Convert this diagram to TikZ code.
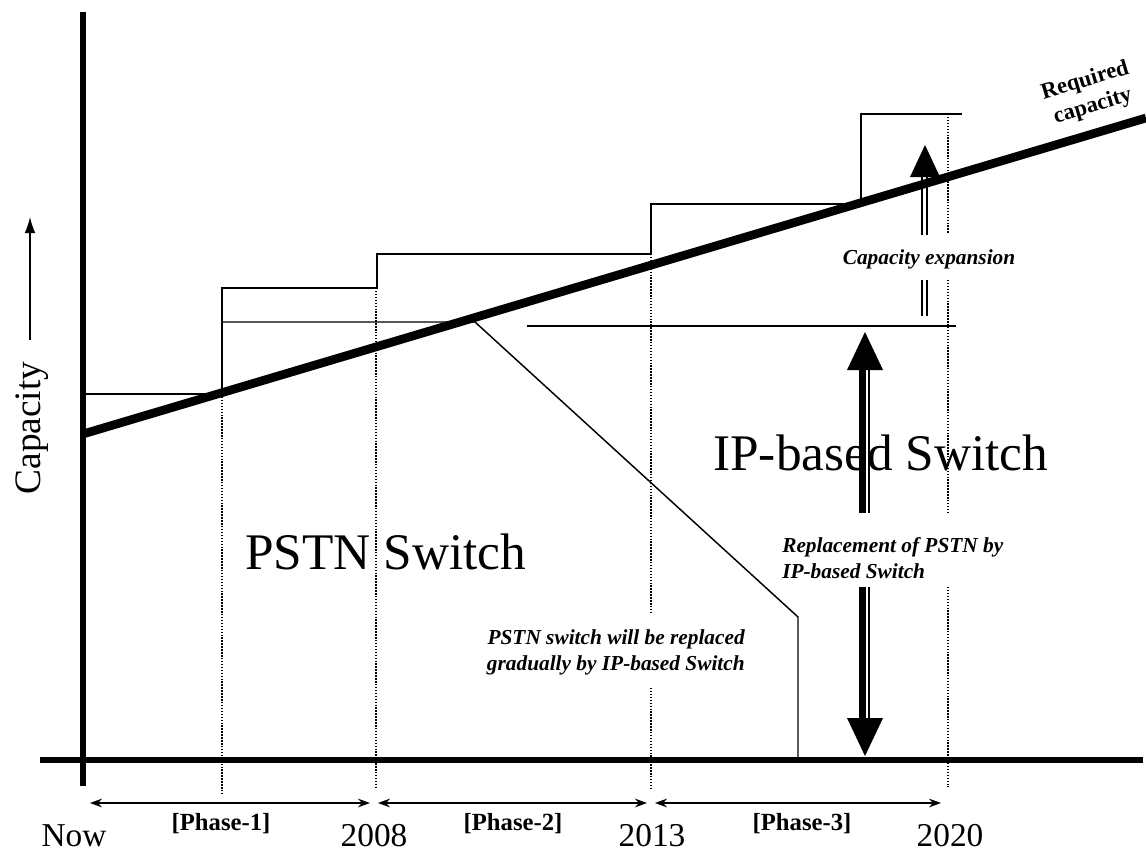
\documentclass[tikz,border=0pt]{standalone}
\usepackage{fontspec}
\setmainfont{Liberation Serif}
\usetikzlibrary{arrows.meta}
\begin{document}
\begin{tikzpicture}[x=0.75pt,y=-0.75pt,
  axis/.style={line width=4pt},
  req/.style={line width=6.5pt},
  thinline/.style={line width=1.1pt},
  dotline/.style={line width=1.1pt, dash pattern=on 1.1pt off 1.1pt},
  phasearrow/.style={line width=1pt, {Stealth[length=9pt,width=6.5pt]}-{Stealth[length=9pt,width=6.5pt]}},
  ann/.style={font=\fontsize{16}{19.5}\selectfont\bfseries\itshape, inner sep=0pt},
  big/.style={font=\fontsize{38.5}{46}\selectfont, inner sep=0pt, anchor=base west},
  year/.style={font=\fontsize{25}{28}\selectfont, inner sep=0pt, anchor=base},
  phase/.style={font=\fontsize{18.5}{21}\selectfont\bfseries, inner sep=0pt, anchor=base},
  headfill/.style={fill=black},
  shaftthick/.style={line width=5.25pt},
  shaftthin/.style={line width=1.5pt},
  dblshaft/.style={line width=1.6pt}
]
\useasboundingbox (0,0) rectangle (1146,853);

% axes
\coordinate (ytop) at (83,12);
\coordinate (ybot) at (83,786);
\coordinate (xl) at (40,760);
\coordinate (xr) at (1143,760);
\draw[axis] (ytop) -- (ybot);
\draw[axis] (xl) -- (xr);

% required capacity line
\coordinate (r0) at (83,434);
\coordinate (r1) at (1146,118);
\draw[req] (r0) -- (r1);

% step (capacity installed)
\draw[thinline] (83,394) -- (222,394) -- (222,288) -- (377,288) -- (377,254)
  -- (651,254) -- (651,204) -- (861,204) -- (861,114) -- (962,114);

% PSTN capacity
\draw[thinline] (222,322) -- (475,322) -- (798,617) -- (798,760);
% IP level
\draw[thinline] (527,326) -- (956,326);

% dotted guides
\draw[dotline] (222,394) -- (222,793);
\draw[dotline] (376,288) -- (376,788);
\draw[dotline] (651,254) -- (651,613);
\draw[dotline] (651,688) -- (651,790);
\draw[dotline] (948,114) -- (948,233);
\draw[dotline] (948,280) -- (948,513);
\draw[dotline] (948,587) -- (948,787);

% capacity axis label
\node[font=\fontsize{28}{32}\selectfont, rotate=90, inner sep=0pt] (caplab) at (32,428) {Capacity};
\coordinate (ca0) at (30,340);
\coordinate (ca1) at (30,217);
\draw[line width=1.1pt, -{Latex[length=12pt,width=8pt]}] (ca0) -- (ca1);

% big labels
\node[big] (pstn) at (245,569) {PSTN Switch};
\node[big] (ipsw) at (713,470) {IP-based Switch};

% capacity expansion arrow
\fill[headfill] (925,145) -- (940,177) -- (910,177) -- cycle;
\draw[dblshaft] (922.3,176) -- (922.3,235);
\draw[dblshaft] (927,176) -- (927,235);
\draw[dblshaft] (922.3,280) -- (922.3,316);
\draw[dblshaft] (927,280) -- (927,316);
\node[ann] (capexp) at (929,259) {Capacity expansion};

% replacement arrow
\fill[headfill] (865,332) -- (883,370) -- (847,370) -- cycle;
\fill[headfill] (865,756) -- (883,718) -- (847,718) -- cycle;
\draw[shaftthick] (862.5,369) -- (862.5,513);
\draw[shaftthin] (869,369) -- (869,513);
\draw[shaftthick] (862.5,587) -- (862.5,719);
\draw[shaftthin] (869,587) -- (869,719);
\node[ann, align=left, anchor=west] (repl) at (782,558) {Replacement of PSTN by\\IP-based Switch};

% PSTN replaced note
\node[ann, align=right, anchor=east] (note) at (745,652) {PSTN switch will be replaced\\gradually by IP-based Switch};

% required capacity label
\node[font=\fontsize{17}{20}\selectfont\bfseries, align=center, rotate=16.6, inner sep=0pt] (reqlab) at (1089,94) {Required\\capacity};

% phase arrows
\coordinate (p1a) at (90,803);
\coordinate (p1b) at (370,803);
\coordinate (p2a) at (378,803);
\coordinate (p2b) at (647,803);
\coordinate (p3a) at (655,803);
\coordinate (p3b) at (941,803);
\draw[phasearrow] (p1a) -- (p1b);
\draw[phasearrow] (p2a) -- (p2b);
\draw[phasearrow] (p3a) -- (p3b);

\node[phase] (ph1) at (221,830) {[Phase-1]};
\node[phase] (ph2) at (513,830) {[Phase-2]};
\node[phase] (ph3) at (802,830) {[Phase-3]};

\node[year] (ynow) at (74,846) {Now};
\node[year] (y08) at (374,846) {2008};
\node[year] (y13) at (652,846) {2013};
\node[year] (y20) at (950,846) {2020};
\end{tikzpicture}
\end{document}
